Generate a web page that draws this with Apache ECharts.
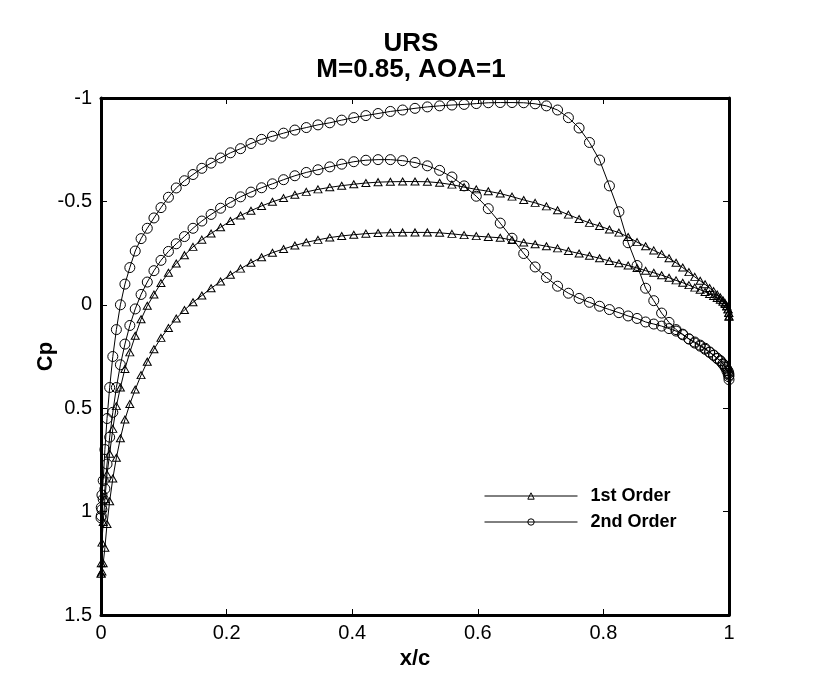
<!DOCTYPE html>
<html>
<head>
<meta charset="utf-8">
<script src="https://cdn.jsdelivr.net/npm/echarts@6/dist/echarts.min.js"></script>
<style>
  html, body { margin: 0; padding: 0; background: #fff; }
  #chart { width: 830px; height: 693px; }
</style>
</head>
<body>
<div id="chart"></div>
<script>
// chordwise stations (same for every surface), LE -> TE
const xs = [0, 0.0004, 0.0015, 0.0035, 0.0062, 0.0096, 0.0138, 0.0188, 0.0245, 0.0309, 0.0381,
  0.0459, 0.0545, 0.0638, 0.0737, 0.0843, 0.0955, 0.1074, 0.1198, 0.1329, 0.1465,
  0.1606, 0.1753, 0.1904, 0.2061, 0.2222, 0.2388, 0.2557, 0.2730, 0.2907, 0.3087,
  0.3269, 0.3455, 0.3643, 0.3833, 0.4025, 0.4218, 0.4412, 0.4608, 0.4803, 0.5,
  0.5197, 0.5392, 0.5588, 0.5782, 0.5976, 0.6167, 0.6357, 0.6545, 0.6731, 0.6913,
  0.7093, 0.7270, 0.7443, 0.7613, 0.7778, 0.7939, 0.8096, 0.8247, 0.8394, 0.8536,
  0.8672, 0.8802, 0.8927, 0.9045, 0.9157, 0.9263, 0.9362, 0.9455, 0.9541, 0.9619,
  0.9691, 0.9755, 0.9812, 0.9862, 0.9904, 0.9938, 0.9965, 0.9985, 0.9996, 1];

// 1st order, upper surface
const cpUpper1 = [1.30, 1.25, 1.15, 1.05, 0.94, 0.82, 0.72, 0.60, 0.49, 0.40, 0.31,
  0.23, 0.15, 0.07, 0.005, -0.05, -0.105, -0.155, -0.20, -0.24, -0.28,
  -0.315, -0.345, -0.375, -0.405, -0.432, -0.455, -0.478, -0.498, -0.516, -0.532,
  -0.546, -0.558, -0.568, -0.576, -0.583, -0.589, -0.593, -0.595, -0.596, -0.596,
  -0.595, -0.590, -0.581, -0.569, -0.558, -0.549, -0.538, -0.523, -0.507, -0.493,
  -0.476, -0.457, -0.436, -0.415, -0.396, -0.381, -0.364, -0.349, -0.328, -0.303,
  -0.283, -0.263, -0.245, -0.225, -0.203, -0.180, -0.158, -0.135, -0.116, -0.099,
  -0.081, -0.066, -0.050, -0.036, -0.022, -0.008, 0.006, 0.022, 0.038, 0.055];

// 1st order, lower surface
const cpLower1 = [1.30, 1.30, 1.29, 1.25, 1.175, 1.06, 0.95, 0.84, 0.74, 0.645, 0.555,
  0.48, 0.41, 0.34, 0.275, 0.215, 0.16, 0.112, 0.066, 0.025, -0.012,
  -0.045, -0.08, -0.113, -0.145, -0.175, -0.203, -0.23, -0.252, -0.27, -0.287,
  -0.302, -0.314, -0.325, -0.333, -0.339, -0.344, -0.347, -0.349, -0.350, -0.350,
  -0.350, -0.348, -0.343, -0.337, -0.332, -0.328, -0.324, -0.313, -0.301, -0.293,
  -0.283, -0.273, -0.260, -0.248, -0.237, -0.225, -0.212, -0.201, -0.190, -0.178,
  -0.165, -0.155, -0.143, -0.131, -0.118, -0.107, -0.095, -0.083, -0.073, -0.062,
  -0.052, -0.043, -0.033, -0.024, -0.014, -0.004, 0.008, 0.022, 0.040, 0.058];

// 2nd order, upper surface
const cpUpper2 = [1.03, 0.98, 0.92, 0.85, 0.70, 0.55, 0.40, 0.25, 0.12, 0.0, -0.10,
  -0.18, -0.26, -0.32, -0.37, -0.42, -0.47, -0.52, -0.565, -0.60, -0.63,
  -0.66, -0.685, -0.71, -0.735, -0.755, -0.78, -0.80, -0.815, -0.83, -0.845,
  -0.857, -0.87, -0.88, -0.893, -0.905, -0.915, -0.925, -0.935, -0.942, -0.95,
  -0.957, -0.962, -0.966, -0.969, -0.973, -0.977, -0.978, -0.978, -0.977, -0.972,
  -0.962, -0.942, -0.905, -0.855, -0.785, -0.70, -0.575, -0.45, -0.30, -0.19,
  -0.08, -0.02, 0.04, 0.085, 0.12, 0.145, 0.165, 0.185, 0.20, 0.215,
  0.23, 0.245, 0.26, 0.27, 0.285, 0.295, 0.31, 0.32, 0.33, 0.34];

// 2nd order, lower surface
const cpLower2 = [1.03, 1.02, 0.99, 0.94, 0.89, 0.77, 0.64, 0.52, 0.40, 0.29, 0.19,
  0.10, 0.02, -0.05, -0.11, -0.165, -0.215, -0.258, -0.295, -0.33, -0.37,
  -0.405, -0.437, -0.467, -0.495, -0.522, -0.545, -0.566, -0.585, -0.605, -0.624,
  -0.64, -0.653, -0.667, -0.68, -0.692, -0.699, -0.702, -0.702, -0.697, -0.688,
  -0.672, -0.65, -0.618, -0.575, -0.525, -0.465, -0.395, -0.322, -0.248, -0.183,
  -0.132, -0.09, -0.056, -0.031, -0.012, 0.007, 0.023, 0.038, 0.054, 0.066,
  0.083, 0.093, 0.103, 0.115, 0.127, 0.142, 0.165, 0.18, 0.195, 0.21,
  0.228, 0.243, 0.258, 0.272, 0.287, 0.302, 0.318, 0.333, 0.348, 0.362];

const xTicks = [0, 0.2, 0.4, 0.6, 0.8, 1];
const yTicks = [-1, -0.5, 0, 0.5, 1, 1.5];

// TE -> LE along the upper surface, then LE -> TE along the lower one
function loop(upper, lower) {
  const pts = [];
  for (let i = xs.length - 1; i >= 0; i--) pts.push([xs[i], upper[i]]);
  for (let i = 1; i < xs.length; i++) pts.push([xs[i], lower[i]]);
  return pts;
}

const font = '"Liberation Sans", Arial, Helvetica, sans-serif';
const chart = echarts.init(document.getElementById('chart'));

const frameLine = { show: true, onZero: false, lineStyle: { color: '#000', width: 3 } };
const innerTick = { show: true, inside: true, length: 6, lineStyle: { color: '#000', width: 1 } };
const hollow = { color: 'rgba(0,0,0,0)', borderColor: '#000', borderWidth: 1 };

chart.setOption({
  animation: false,
  backgroundColor: '#fff',
  title: {
    text: 'URS\nM=0.85, AOA=1',
    left: 406,
    textAlign: 'center',
    top: 26,
    textStyle: { fontFamily: font, fontSize: 26, fontWeight: 'bold', color: '#000', lineHeight: 26 }
  },
  legend: {
    orient: 'vertical',
    left: 484,
    top: 487,
    padding: 0,
    itemWidth: 93,
    itemHeight: 8,
    itemGap: 8,
    itemStyle: hollow,
    lineStyle: { color: '#000', width: 1 },
    textStyle: { fontFamily: font, fontSize: 18, fontWeight: 'bold', color: '#000', lineHeight: 18, padding: [0, 0, 0, 8] },
    data: ['1st Order', '2nd Order']
  },
  grid: { left: 101, top: 98, width: 628, height: 517 },
  xAxis: [
    {
      type: 'value', min: xTicks[0], max: xTicks[xTicks.length - 1], interval: 0.2,
      position: 'bottom',
      name: 'x/c', nameLocation: 'middle', nameGap: 33, nameMoveOverlap: false,
      nameTextStyle: { fontFamily: font, fontSize: 22, fontWeight: 'bold', color: '#000' },
      axisLine: frameLine, axisTick: innerTick,
      axisLabel: { color: '#000', fontFamily: font, fontSize: 20, margin: 8 },
      splitLine: { show: false }
    },
    {
      type: 'value', min: xTicks[0], max: xTicks[xTicks.length - 1], interval: 0.2,
      position: 'top',
      axisLine: frameLine, axisTick: innerTick,
      axisLabel: { show: false }, splitLine: { show: false }
    }
  ],
  yAxis: [
    {
      type: 'value', inverse: true, min: yTicks[0], max: yTicks[yTicks.length - 1], interval: 0.5,
      position: 'left',
      name: 'Cp', nameLocation: 'middle', nameGap: 44, nameMoveOverlap: false,
      nameTextStyle: { fontFamily: font, fontSize: 22, fontWeight: 'bold', color: '#000' },
      axisLine: frameLine, axisTick: innerTick,
      axisLabel: { color: '#000', fontFamily: font, fontSize: 20, margin: 9 },
      splitLine: { show: false }
    },
    {
      type: 'value', inverse: true, min: yTicks[0], max: yTicks[yTicks.length - 1], interval: 0.5,
      position: 'right',
      axisLine: frameLine, axisTick: innerTick,
      axisLabel: { show: false }, splitLine: { show: false }
    }
  ],
  series: [
    {
      name: '1st Order',
      type: 'line',
      data: loop(cpUpper1, cpLower1),
      clip: false,
      symbol: 'triangle',
      symbolSize: [8, 7],
      lineStyle: { color: '#000', width: 1 },
      itemStyle: hollow,
      emphasis: { disabled: true }
    },
    {
      name: '2nd Order',
      type: 'line',
      data: loop(cpUpper2, cpLower2),
      clip: false,
      symbol: 'circle',
      symbolSize: 10,
      lineStyle: { color: '#000', width: 1 },
      itemStyle: hollow,
      emphasis: { disabled: true }
    }
  ]
});
</script>
</body>
</html>
